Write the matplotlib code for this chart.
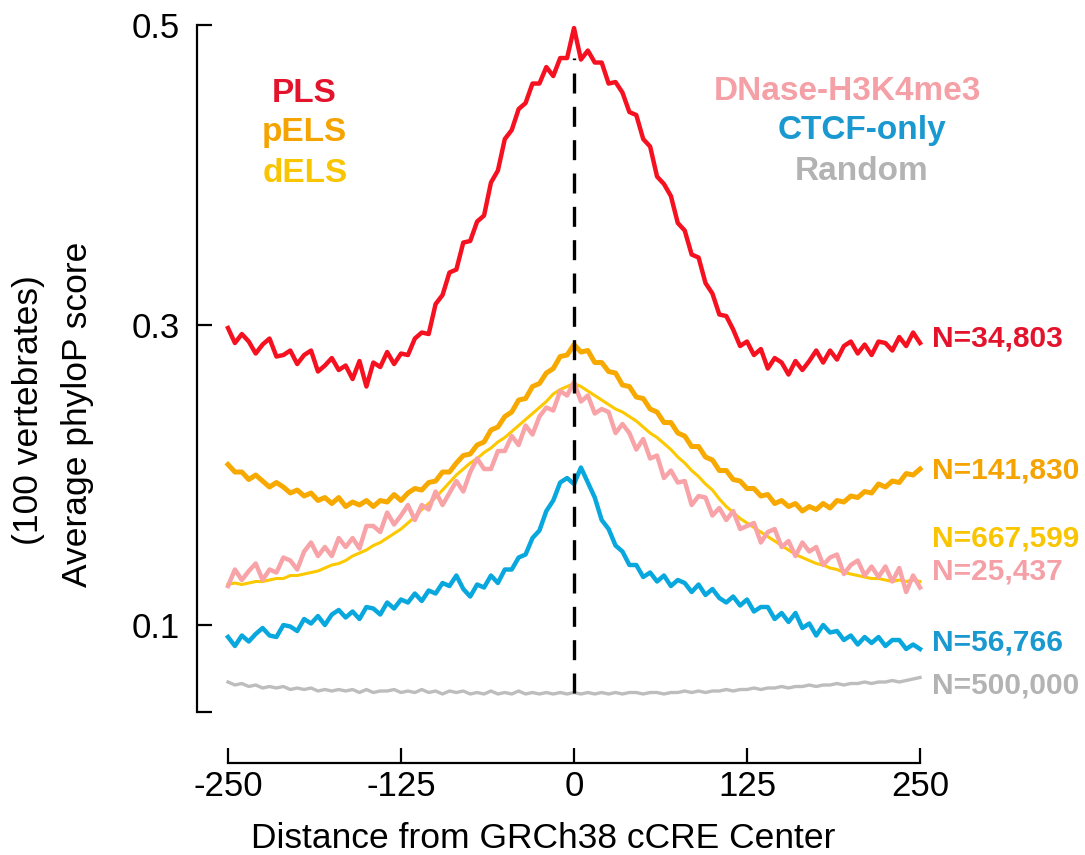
import numpy as np
import matplotlib
matplotlib.use("Agg")
import matplotlib.pyplot as plt

plt.rcParams['font.family'] = ['Liberation Sans', 'DejaVu Sans']

# distance from cCRE center (bp), one value every 5 bp
dist = np.arange(-250, 251, 5)

pls = [0.298, 0.288, 0.294, 0.289, 0.281, 0.287, 0.291, 0.279, 0.280, 0.283,
       0.274, 0.280, 0.283, 0.269, 0.273, 0.278, 0.270, 0.273, 0.264, 0.276,
       0.259, 0.275, 0.272, 0.282, 0.274, 0.281, 0.280, 0.291, 0.295, 0.294,
       0.314, 0.320, 0.335, 0.337, 0.355, 0.356, 0.369, 0.373, 0.395, 0.403,
       0.424, 0.430, 0.444, 0.448, 0.461, 0.461, 0.472, 0.466, 0.478, 0.478,
       0.498,
       0.477, 0.483, 0.475, 0.475, 0.461, 0.462, 0.455, 0.442, 0.440, 0.424,
       0.419, 0.399, 0.394, 0.386, 0.368, 0.363, 0.347, 0.345, 0.328, 0.321,
       0.307, 0.306, 0.297, 0.286, 0.289, 0.280, 0.284, 0.271, 0.278, 0.275,
       0.267, 0.276, 0.270, 0.276, 0.283, 0.275, 0.283, 0.277, 0.286, 0.289,
       0.281, 0.287, 0.280, 0.289, 0.288, 0.283, 0.292, 0.286, 0.295, 0.288]

pels = [0.207, 0.202, 0.202, 0.197, 0.200, 0.196, 0.192, 0.195, 0.192, 0.188,
        0.190, 0.186, 0.188, 0.183, 0.185, 0.181, 0.185, 0.179, 0.182, 0.180,
        0.183, 0.179, 0.183, 0.182, 0.187, 0.183, 0.188, 0.191, 0.190, 0.195,
        0.196, 0.202, 0.202, 0.208, 0.213, 0.214, 0.220, 0.222, 0.230, 0.232,
        0.239, 0.242, 0.250, 0.251, 0.259, 0.261, 0.268, 0.271, 0.279, 0.280,
        0.287,
        0.282, 0.283, 0.275, 0.275, 0.269, 0.268, 0.260, 0.259, 0.252, 0.251,
        0.244, 0.242, 0.235, 0.235, 0.228, 0.226, 0.219, 0.219, 0.212, 0.210,
        0.203, 0.203, 0.197, 0.196, 0.191, 0.191, 0.186, 0.187, 0.181, 0.183,
        0.179, 0.181, 0.176, 0.179, 0.177, 0.181, 0.178, 0.183, 0.182, 0.186,
        0.185, 0.189, 0.188, 0.194, 0.192, 0.196, 0.195, 0.201, 0.200, 0.204]

dels = [0.127, 0.128, 0.127, 0.128, 0.129, 0.129, 0.130, 0.131, 0.131, 0.133,
        0.133, 0.134, 0.135, 0.136, 0.138, 0.140, 0.141, 0.143, 0.146, 0.148,
        0.150, 0.153, 0.155, 0.158, 0.161, 0.164, 0.168, 0.172, 0.177, 0.181,
        0.185, 0.190, 0.195, 0.200, 0.204, 0.208, 0.211, 0.215, 0.218, 0.222,
        0.225, 0.229, 0.233, 0.237, 0.241, 0.245, 0.249, 0.254, 0.257, 0.259,
        0.261,
        0.259, 0.256, 0.253, 0.250, 0.247, 0.244, 0.242, 0.239, 0.236, 0.232,
        0.228, 0.225, 0.221, 0.217, 0.212, 0.208, 0.203, 0.199, 0.194, 0.190,
        0.184, 0.179, 0.175, 0.171, 0.168, 0.165, 0.162, 0.159, 0.156, 0.153,
        0.150, 0.147, 0.145, 0.143, 0.141, 0.140, 0.138, 0.137, 0.135, 0.134,
        0.133, 0.132, 0.131, 0.131, 0.130, 0.129, 0.130, 0.129, 0.130, 0.129]

dnase = [0.126, 0.137, 0.130, 0.136, 0.141, 0.130, 0.137, 0.135, 0.145, 0.143,
         0.137, 0.149, 0.155, 0.146, 0.152, 0.146, 0.158, 0.152, 0.158, 0.151,
         0.166, 0.166, 0.162, 0.175, 0.167, 0.173, 0.180, 0.170, 0.180, 0.177,
         0.189, 0.180, 0.188, 0.196, 0.189, 0.202, 0.211, 0.204, 0.204, 0.216,
         0.216, 0.226, 0.220, 0.233, 0.227, 0.239, 0.245, 0.243, 0.256, 0.253,
         0.262,
         0.249, 0.253, 0.241, 0.244, 0.242, 0.228, 0.234, 0.228, 0.217, 0.224,
         0.211, 0.213, 0.198, 0.203, 0.195, 0.196, 0.180, 0.186, 0.185, 0.173,
         0.178, 0.170, 0.176, 0.164, 0.166, 0.168, 0.155, 0.162, 0.164, 0.152,
         0.156, 0.146, 0.155, 0.149, 0.152, 0.140, 0.145, 0.147, 0.134, 0.140,
         0.143, 0.133, 0.139, 0.132, 0.139, 0.129, 0.138, 0.122, 0.133, 0.125]

ctcf = [0.092, 0.086, 0.093, 0.089, 0.094, 0.098, 0.093, 0.092, 0.100, 0.099,
        0.096, 0.104, 0.101, 0.106, 0.100, 0.107, 0.110, 0.105, 0.109, 0.104,
        0.112, 0.111, 0.107, 0.115, 0.111, 0.117, 0.115, 0.121, 0.116, 0.123,
        0.121, 0.128, 0.126, 0.133, 0.124, 0.119, 0.127, 0.125, 0.133, 0.128,
        0.137, 0.137, 0.145, 0.147, 0.158, 0.163, 0.176, 0.183, 0.195, 0.198,
        0.194,
        0.205, 0.195, 0.185, 0.170, 0.164, 0.153, 0.149, 0.140, 0.140, 0.132,
        0.135, 0.129, 0.133, 0.126, 0.130, 0.128, 0.122, 0.127, 0.120, 0.124,
        0.118, 0.115, 0.119, 0.113, 0.117, 0.109, 0.112, 0.112, 0.104, 0.108,
        0.102, 0.108, 0.098, 0.101, 0.093, 0.100, 0.095, 0.096, 0.090, 0.093,
        0.087, 0.092, 0.088, 0.092, 0.086, 0.090, 0.090, 0.084, 0.087, 0.084]

rand = [0.062, 0.060, 0.061, 0.059, 0.060, 0.058, 0.059, 0.058, 0.059, 0.057,
        0.058, 0.057, 0.058, 0.056, 0.057, 0.056, 0.057, 0.056, 0.057, 0.055,
        0.057, 0.055, 0.056, 0.056, 0.057, 0.055, 0.056, 0.055, 0.057, 0.055,
        0.056, 0.054, 0.056, 0.055, 0.056, 0.054, 0.055, 0.054, 0.056, 0.054,
        0.055, 0.054, 0.056, 0.054, 0.055, 0.054, 0.055, 0.054, 0.055, 0.054,
        0.055,
        0.054, 0.055, 0.054, 0.055, 0.054, 0.055, 0.054, 0.055, 0.055, 0.054,
        0.055, 0.055, 0.054, 0.055, 0.055, 0.056, 0.055, 0.056, 0.055, 0.056,
        0.056, 0.057, 0.056, 0.057, 0.057, 0.058, 0.057, 0.058, 0.058, 0.059,
        0.058, 0.059, 0.059, 0.060, 0.059, 0.060, 0.060, 0.061, 0.060, 0.061,
        0.061, 0.062, 0.061, 0.062, 0.062, 0.063, 0.062, 0.063, 0.064, 0.065]

names = ['PLS', 'pELS', 'dELS', 'DNase-H3K4me3', 'CTCF-only', 'Random']
counts = ['N=34,803', 'N=141,830', 'N=667,599', 'N=25,437', 'N=56,766', 'N=500,000']
line_colors = ['#f5111f', '#f8a900', '#fcc800', '#f8a3a8', '#08a8de', '#bdbdbd']
text_colors = ['#e3132c', '#f5a300', '#f8c500', '#f4a0a6', '#1a98d0', '#b3b3b3']

W, H = 1085, 855
fig = plt.figure(figsize=(W / 100, H / 100), dpi=100)
ax = fig.add_axes([197 / W, 1 - 763 / H, 728 / W, 748 / H])
ax.set_xlim(-272.4, 253.6)
ax.set_ylim(0.008, 0.5067)

# draw order: gray, blue, yellow, pink, orange, red
series = [pls, pels, dels, dnase, ctcf, rand]
widths = [3.2, 3.6, 2.2, 3.2, 3.2, 2.4]
for i in [5, 4, 2, 3, 1, 0]:
    ax.plot(dist, series[i], color=line_colors[i], lw=widths[i],
            solid_joinstyle='round', clip_on=False)

ax.vlines(0, 0.055, 0.478, color='black', lw=2.4, linestyles=(0, (6, 4)), zorder=5)

# spines as floating brackets
for s in ['top', 'right']:
    ax.spines[s].set_visible(False)
ax.spines['left'].set_bounds(0.042, 0.5)
ax.spines['bottom'].set_bounds(-250, 250)
ax.spines['left'].set_linewidth(1.6)
ax.spines['bottom'].set_linewidth(1.6)

yticks = [0.1, 0.3, 0.5]
xticks = [-250, -125, 0, 125, 250]
ax.set_yticks(yticks)
ax.set_yticklabels(['0.1', '0.3', '0.5'])
ax.set_yticks([0.042], minor=True)
ax.set_xticks(xticks)
ax.set_xticklabels([str(t) for t in xticks])
ax.tick_params(axis='y', which='both', direction='in', length=11, width=1.6,
               pad=12, labelsize=25)
ax.tick_params(axis='x', direction='in', length=11, width=1.6, pad=5, labelsize=25)


def fx(px):
    return px / W


def fy(py):
    return 1 - py / H


fig.text(fx(543), fy(838), 'Distance from GRCh38 cCRE Center', fontsize=25.5,
         ha='center', va='center')
fig.text(fx(29), fy(410), '(100 vertebrates)', rotation=90, fontsize=25.5,
         ha='center', va='center')
fig.text(fx(78), fy(414), 'Average phyloP score', rotation=90, fontsize=25.5,
         ha='center', va='center')

# category labels
left_pos = [(304, 93), (304, 133), (305, 173)]
right_pos = [(847, 92), (862, 130), (862, 172)]
for i, (px, py) in enumerate(left_pos + right_pos):
    fig.text(fx(px), fy(py), names[i], color=text_colors[i], fontsize=24,
             fontweight='bold', ha='center', va='center')

# counts at the right end
n_y = [338, 470, 538, 572, 642, 685]
for i, py in enumerate(n_y):
    fig.text(fx(932), fy(py), counts[i], color=text_colors[i], fontsize=21.5,
             fontweight='bold', ha='left', va='center')

fig.savefig('out.png', dpi=100)
